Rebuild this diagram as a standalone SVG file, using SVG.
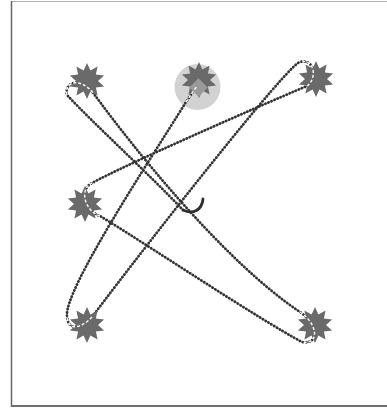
<svg xmlns="http://www.w3.org/2000/svg" width="387" height="410" viewBox="0 0 387 410">
<style>
.star{fill:#6a6a6a}
.guide-under{fill:none;stroke:#a8a8a8;stroke-width:1.4}
.guide{fill:none;stroke:#333333;stroke-width:2.8;stroke-linecap:round;stroke-dasharray:0.1 3.2}
.over{fill:none;stroke:#f4f4f4;stroke-width:1.5;stroke-dasharray:3 2}
.hook{fill:none;stroke:#2e2e2e;stroke-width:2.8;stroke-linecap:round}
</style>
<defs>
<polygon id="star" points="0,-18 3.4,-10.46 10.58,-14.56 8.9,-6.47 17.12,-5.56 11,0 17.12,5.56 8.9,6.47 10.58,14.56 3.4,10.46 0,18 -3.4,10.46 -10.58,14.56 -8.9,6.47 -17.12,5.56 -11,0 -17.12,-5.56 -8.9,-6.47 -10.58,-14.56 -3.4,-10.46"/>
</defs>
<rect x="0" y="0" width="387" height="410" fill="#ffffff"/>
<g id="frame">
<line x1="11" y1="1.5" x2="387" y2="1.5" stroke="#b0b0b0" stroke-width="1"/>
<line x1="11" y1="406" x2="387" y2="406" stroke="#707070" stroke-width="2"/>
<line x1="11.5" y1="1" x2="11.5" y2="407" stroke="#666666" stroke-width="1.5"/>
</g>
<g id="tm-highlight">
<circle cx="197.5" cy="87" r="23" fill="#d2d2d2"/>
</g>
<g id="connectors">
<path class="guide-under" d="M 183,210 C 150,175 95,125 67,95 C 64,82 80,76 94,94 C 135,150 225,262 300,312 C 318,324 320,345 302,342 C 260,320 140,240 100,216 C 86,212 78,190 92,183 C 125,165 250,110 307,86 C 318,78 314,58 300,62 C 288,64 150,240 92,317 C 84,326 68,334 67,316 C 64,290 150,160 186,102 L 197,86"/>
<path class="guide" d="M 183,210 C 150,175 95,125 67,95 C 64,82 80,76 94,94 C 135,150 225,262 300,312 C 318,324 320,345 302,342 C 260,320 140,240 100,216 C 86,212 78,190 92,183 C 125,165 250,110 307,86 C 318,78 314,58 300,62 C 288,64 150,240 92,317 C 84,326 68,334 67,316 C 64,290 150,160 186,102 L 197,86"/>
<path class="hook" d="M 203,199 C 202,210 193,215 183,210"/>
</g>
<g id="node-tl"><use href="#star" class="star" x="87" y="81"/></g>
<g id="node-tm">
<use href="#star" class="star" x="199" y="80"/>
<rect x="192" y="81" width="13" height="13" fill="#9a9a9a" transform="rotate(45 198.5 87.5)"/>
</g>
<g id="node-tr"><use href="#star" class="star" x="316" y="79"/></g>
<g id="node-ml"><use href="#star" class="star" x="85" y="204"/></g>
<g id="node-bl"><use href="#star" class="star" x="87" y="325"/></g>
<g id="node-br"><use href="#star" class="star" x="315" y="325"/></g>
<g id="connector-overlays">
<path class="over" d="M 67,95 C 64,82 80,76 94,94"/>
<path class="over" d="M 300,312 C 318,324 320,345 302,342"/>
<path class="over" d="M 100,216 C 86,212 78,190 92,183"/>
<path class="over" d="M 307,86 C 318,78 314,58 300,62"/>
<path class="over" d="M 92,317 C 84,326 68,334 67,316"/>
<path class="over" d="M 186,102 L 197,86"/>
</g>
</svg>
